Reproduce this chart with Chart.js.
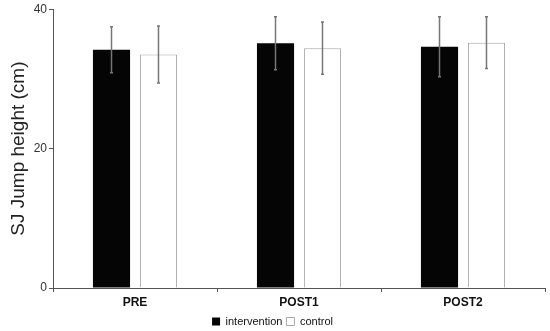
<!DOCTYPE html>
<html>
<head>
<meta charset="utf-8">
<script src="https://cdn.jsdelivr.net/npm/chart.js@4"></script>
<style>
  html, body { margin: 0; padding: 0; background: #fff; }
  #wrap { width: 550px; height: 331px; }
</style>
</head>
<body>
<div id="wrap"><canvas id="jumpChart" width="550" height="331"></canvas></div>
<script>
const categories = ['PRE', 'POST1', 'POST2'];
const interventionMean = [34.2, 35.1, 34.6];
const interventionSd = [3.3, 3.8, 4.3];
const controlMean = [33.5, 34.4, 35.2];
const controlSd = [4.1, 3.75, 3.7];
const yTicks = [0, 20, 40];

const errorBars = {
  id: 'errorBars',
  afterDatasetsDraw(chart) {
    const ctx = chart.ctx;
    const y = chart.scales.y;
    chart.data.datasets.forEach((ds, i) => {
      const meta = chart.getDatasetMeta(i);
      meta.data.forEach((bar, j) => {
        const m = ds.data[j], sd = ds.sd[j];
        const top = y.getPixelForValue(m + sd);
        const bot = y.getPixelForValue(m - sd);
        ctx.save();
        ctx.strokeStyle = '#767676';
        ctx.lineWidth = 1.5;
        ctx.beginPath();
        ctx.moveTo(bar.x, top); ctx.lineTo(bar.x, bot);
        ctx.moveTo(bar.x - 1.5, top); ctx.lineTo(bar.x + 1.5, top);
        ctx.moveTo(bar.x - 1.5, bot); ctx.lineTo(bar.x + 1.5, bot);
        ctx.stroke();
        ctx.restore();
      });
    });
  }
};

new Chart(document.getElementById('jumpChart').getContext('2d'), {
  type: 'bar',
  data: {
    labels: categories,
    datasets: [
      { label: 'intervention', data: interventionMean, sd: interventionSd,
        backgroundColor: '#050505', borderColor: '#050505', borderWidth: 0,
        categoryPercentage: 0.573, barPercentage: 0.79 },
      { label: 'control', data: controlMean, sd: controlSd,
        backgroundColor: '#ffffff', borderColor: '#a8a8a8', borderWidth: 1,
        categoryPercentage: 0.573, barPercentage: 0.79 }
    ]
  },
  options: {
    responsive: false,
    animation: false,
    devicePixelRatio: 1,
    layout: { padding: { left: 0, right: 5, top: 9, bottom: -6 } },
    plugins: {
      tooltip: { enabled: false },
      legend: {
        position: 'bottom',
        labels: {
          boxWidth: 8, boxHeight: 8, padding: 4,
          color: '#111',
          font: { family: 'Liberation Sans, Arial, sans-serif', size: 11 }
        }
      }
    },
    scales: {
      x: {
        grid: { display: true, drawOnChartArea: false, offset: true, tickLength: 4, color: '#555' },
        border: { color: '#555', width: 1 },
        ticks: { color: '#111', font: { family: 'Liberation Sans, Arial, sans-serif', size: 12, weight: 'bold' }, padding: 3 },
        afterFit(scale) { scale.height = 24; }
      },
      y: {
        min: 0, max: 40,
        afterBuildTicks(scale) { scale.ticks = yTicks.map(v => ({ value: v })); },
        grid: { display: true, drawOnChartArea: false, tickLength: 4, color: '#555' },
        border: { color: '#555', width: 1 },
        ticks: { color: '#333', font: { family: 'Liberation Sans, Arial, sans-serif', size: 12 }, padding: 2 },
        title: { display: true, text: 'SJ Jump height (cm)', color: '#222',
          font: { family: 'Liberation Sans, Arial, sans-serif', size: 19 }, padding: { top: 7, bottom: 0 } },
        afterFit(scale) { scale.width = 53; }
      }
    }
  },
  plugins: [errorBars]
});
</script>
</body>
</html>
